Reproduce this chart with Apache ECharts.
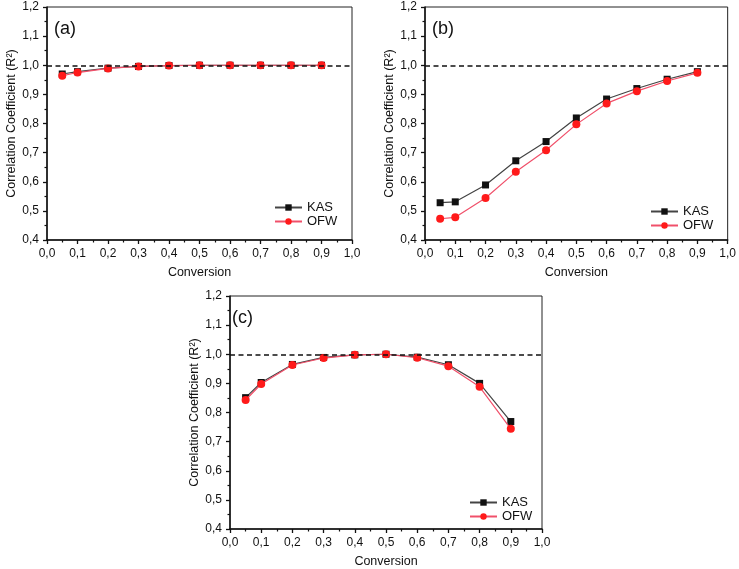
<!DOCTYPE html>
<html>
<head>
<meta charset="utf-8">
<script src="https://cdn.jsdelivr.net/npm/echarts@6/dist/echarts.min.js"></script>
<style>
  html, body { margin: 0; padding: 0; background: #fff; }
  #chart { width: 739px; height: 569px; }
</style>
</head>
<body>
<div id="chart"></div>
<script>
// conversion points (x)
const conversion = [0.05, 0.1, 0.2, 0.3, 0.4, 0.5, 0.6, 0.7, 0.8, 0.9]

// panel (a)
const kasA = [0.970, 0.978, 0.990, 0.996, 0.999, 1.000, 1.000, 1.000, 1.000, 1.000]
const ofwA = [0.964, 0.975, 0.989, 0.996, 0.999, 1.000, 1.000, 1.000, 1.000, 1.000]
// panel (b)
const kasB = [0.528, 0.531, 0.589, 0.672, 0.738, 0.819, 0.884, 0.920, 0.952, 0.978]
const ofwB = [0.473, 0.478, 0.544, 0.634, 0.708, 0.797, 0.869, 0.911, 0.946, 0.974]
// panel (c)
const kasC = [0.851, 0.903, 0.965, 0.989, 0.998, 1.000, 0.990, 0.964, 0.900, 0.769]
const ofwC = [0.843, 0.898, 0.963, 0.987, 0.998, 1.000, 0.988, 0.959, 0.888, 0.744]

const panelLabels = ['(a)', '(b)', '(c)']
const seriesNames = ['KAS', 'OFW']
const refLine = 1.0

const font = 'Liberation Sans, Arial, sans-serif'
const txt = '#111'

const pair = (xs, ys) => xs.map((x, i) => [x, ys[i]])
const comma = v => v.toFixed(1).replace('.', ',')

// grid boxes (px)
const grids = [
  { left: 47, top: 7, width: 305, height: 233 },
  { left: 425, top: 7, width: 304, height: 233 },
  { left: 230, top: 296, width: 312, height: 233 }
]
const panelData = [[kasA, ofwA], [kasB, ofwB], [kasC, ofwC]]
const labelPos = [[54, 20], [432, 20], [232, 309]]
const legendPos = [[274, 201], [650, 205], [469, 496]]

const axisLine = { show: true, lineStyle: { color: '#111', width: 1.5 } }
const axisTick = { show: true, length: 4, lineStyle: { color: '#111', width: 1.3 } }
const minorTick = { show: true, splitNumber: 2, length: 2.5, lineStyle: { color: '#111', width: 1.2 } }

const xAxes = grids.map((g, i) => ({
  type: 'value', gridIndex: i, min: 0, max: 1, interval: 0.1,
  name: 'Conversion', nameLocation: 'middle', nameGap: 26,
  nameTextStyle: { color: txt, fontSize: 12.5, fontFamily: font },
  axisLine, axisTick, minorTick,
  splitLine: { show: false },
  axisLabel: { color: txt, fontSize: 12, fontFamily: font, margin: 8, formatter: comma }
}))

const yAxes = grids.map((g, i) => ({
  type: 'value', gridIndex: i, min: 0.4, max: 1.2, interval: 0.1,
  name: 'Correlation Coefficient (R²)', nameLocation: 'middle', nameGap: 29,
  nameTextStyle: { color: txt, fontSize: 12.5, fontFamily: font },
  axisLine, axisTick, minorTick,
  splitLine: { show: false },
  axisLabel: { color: txt, fontSize: 12, fontFamily: font, margin: 8, formatter: comma }
}))

const series = []
panelData.forEach(([kas, ofw], i) => {
  series.push({
    name: 'KAS', type: 'line', xAxisIndex: i, yAxisIndex: i,
    data: pair(conversion, kas),
    symbol: 'rect', symbolSize: 7,
    itemStyle: { color: '#111' },
    lineStyle: { color: '#444', width: 1.2 },
    markLine: {
      silent: true, symbol: 'none', label: { show: false },
      lineStyle: { color: '#111', type: [5, 3.5], width: 1.5 },
      data: [{ yAxis: refLine }]
    },
    z: 2
  })
  series.push({
    name: 'OFW', type: 'line', xAxisIndex: i, yAxisIndex: i,
    data: pair(conversion, ofw),
    symbol: 'circle', symbolSize: 8,
    itemStyle: { color: '#ff1a1a' },
    lineStyle: { color: '#f0506a', width: 1.2 },
    z: 3
  })
})

const option = {
  backgroundColor: '#fff',
  animation: false,
  textStyle: { fontFamily: font },
  title: panelLabels.map((t, i) => ({
    text: t, left: labelPos[i][0], top: labelPos[i][1], padding: 0,
    textStyle: { fontSize: 18, fontWeight: 'normal', color: '#111', fontFamily: font }
  })),
  legend: legendPos.map(([l, t], i) => ({
    data: seriesNames, left: l, top: t, orient: 'vertical', padding: 0,
    itemWidth: 27, itemHeight: 8, itemGap: 1,
    textStyle: { fontSize: 13, color: txt, fontFamily: font },
    selectedMode: false
  })),
  grid: grids.map(g => ({ ...g, show: true, borderColor: '#222', borderWidth: 1, backgroundColor: 'transparent' })),
  xAxis: xAxes,
  yAxis: yAxes,
  series
}

const chart = echarts.init(document.getElementById('chart'), null, { renderer: 'canvas' })
chart.setOption(option)
</script>
</body>
</html>
